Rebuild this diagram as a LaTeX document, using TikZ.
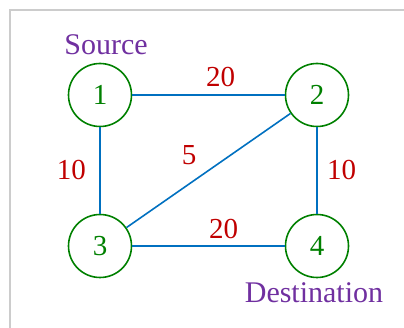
\documentclass[tikz,border=0pt]{standalone}
\usepackage{fontspec}
\setmainfont{Liberation Serif}
\usetikzlibrary{positioning}
\definecolor{vgreen}{RGB}{0, 128, 0}
\definecolor{eblue}{RGB}{0, 112, 192}
\definecolor{wred}{RGB}{192, 0, 0}
\definecolor{tpurple}{RGB}{112, 48, 160}
\begin{document}
\begin{tikzpicture}[x=1pt, y=-1pt,
  vertex/.style={draw=vgreen, circle, line width=1.6pt, minimum size=63pt, inner sep=0pt, text=vgreen, font=\fontsize{29}{30}\selectfont},
  edge/.style={draw=eblue, line width=1.6pt},
  weight/.style={text=wred, font=\fontsize{29}{30}\selectfont},
  tag/.style={text=tpurple, font=\fontsize{30}{32}\selectfont}
]
  \useasboundingbox (0,0) rectangle (404,328);
  \draw[black!20, line width=1.6pt] (10,330) -- (10,10) -- (406,10);

  \node[vertex] (n1) at (100,95) {1};
  \node[vertex] (n2) at (317,95) {2};
  \node[vertex] (n3) at (100,246) {3};
  \node[vertex] (n4) at (317,246) {4};

  \draw[edge] (n1) -- node[weight, pos=0.58, above=4pt] {20} (n2);
  \draw[edge] (n1) -- node[weight, left=10pt] {10} (n3);
  \draw[edge] (n3) -- node[weight, above left=2pt and 8pt] {5} (n2);
  \draw[edge] (n2) -- node[weight, right=6pt] {10} (n4);
  \draw[edge] (n3) -- node[weight, pos=0.6, above=3pt] {20} (n4);

  \node[tag, above=4pt of n1, xshift=6pt] (src) {Source};
  \node[tag, below=1pt of n4, xshift=-3pt] (dst) {Destination};
\end{tikzpicture}
\end{document}
